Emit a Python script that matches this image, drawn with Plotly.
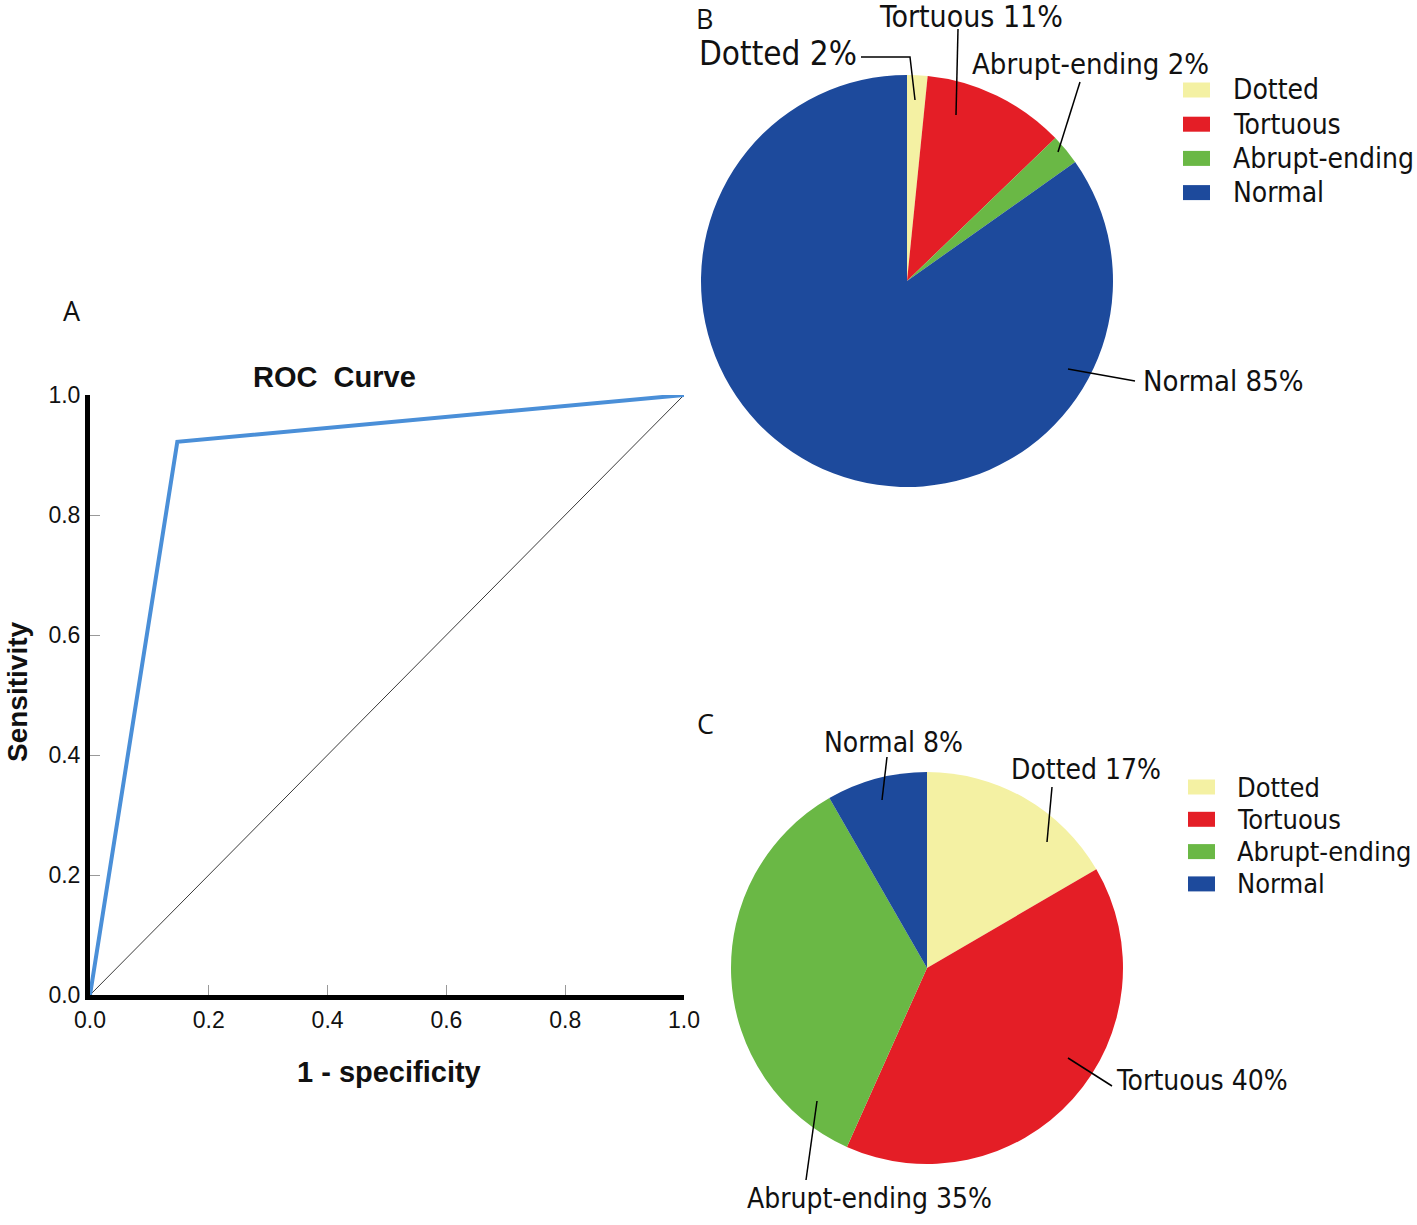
import plotly.graph_objects as go

W, H = 1417, 1225

# ---------------- data ----------------
roc_fpr = [0.0, 0.147, 1.0]
roc_tpr = [0.0, 0.922, 1.0]
ref_x = [0.0, 1.0]
ref_y = [0.0, 1.0]
tick_vals = [0.0, 0.2, 0.4, 0.6, 0.8, 1.0]

categories = ["Dotted", "Tortuous", "Abrupt-ending", "Normal"]
colors = ["#F4F1A3", "#E41E26", "#6AB845", "#1D4A9C"]

b_values = [1.6, 11.2, 2.4, 84.8]
b_labels = ["Dotted 2%", "Tortuous 11%", "Abrupt-ending 2%", "Normal 85%"]

c_values = [16.6, 40.1, 35.0, 8.3]
c_labels = ["Dotted 17%", "Tortuous 40%", "Abrupt-ending 35%", "Normal 8%"]


def px(x):
    return x / W


def py(y):
    return 1 - y / H


fig = go.Figure()

# ---------------- Panel A: ROC ----------------
fig.add_trace(go.Scatter(x=ref_x, y=ref_y, mode="lines",
                         line=dict(color="#3a3a3a", width=1),
                         cliponaxis=False, showlegend=False, hoverinfo="skip"))
fig.add_trace(go.Scatter(x=roc_fpr, y=roc_tpr, mode="lines",
                         line=dict(color="#4A8FD8", width=4),
                         cliponaxis=False, showlegend=False))

axis_common = dict(range=[0, 1], tickvals=tick_vals, tickformat=".1f",
                   showgrid=False, zeroline=False, showline=True,
                   linecolor="black", linewidth=5, automargin=False,
                   ticks="inside", ticklen=10, tickcolor="#999999", tickwidth=1,
                   tickfont=dict(family="Liberation Sans, Arial", size=23, color="#111"))
fig.update_layout(
    xaxis=dict(domain=[px(90), px(684)], anchor="y", **axis_common),
    yaxis=dict(domain=[py(995), py(395)], anchor="x", **axis_common),
)

# ---------------- Panels B and C: pies ----------------
bcx, bcy, br = 907, 281, 206
ccx, ccy, cr = 927, 968, 196

fig.add_trace(go.Pie(values=b_values, labels=categories, sort=False,
                     direction="clockwise", rotation=0,
                     marker=dict(colors=colors, line=dict(width=0)),
                     textinfo="none", showlegend=False,
                     domain=dict(x=[px(bcx - br), px(bcx + br)],
                                 y=[py(bcy + br), py(bcy - br)])))
fig.add_trace(go.Pie(values=c_values, labels=categories, sort=False,
                     direction="clockwise", rotation=0,
                     marker=dict(colors=colors, line=dict(width=0)),
                     textinfo="none", showlegend=False,
                     domain=dict(x=[px(ccx - cr), px(ccx + cr)],
                                 y=[py(ccy + cr), py(ccy - cr)])))

annotations = []
shapes = []


def ann(text, x, y, font, anchor="center", angle=0):
    annotations.append(dict(x=px(x), y=py(y), xref="paper", yref="paper",
                            text=text, showarrow=False, xanchor=anchor,
                            yanchor="middle", textangle=angle, font=font))


bold = dict(family="Liberation Sans, Arial", size=29, color="#111")
ann("<b>ROC  Curve</b>", 334, 377, bold)
ann("<b>1 - specificity</b>", 389, 1072, bold)
ann("<b>Sensitivity</b>", 17, 692, dict(family="Liberation Sans, Arial", size=28, color="#111"),
    angle=-90)

letter_font = dict(family="Open Sans, Liberation Sans", size=27, color="#111")
for t, (x, y) in zip(["A", "B", "C"], [(72, 311), (704, 19), (705, 723)]):
    ann(t, x, y, letter_font)

narrow = "Liberation Sans Narrow, DejaVu Sans Condensed, Liberation Sans"


def label(text, x, y, size, anchor="center"):
    ann(text, x, y, dict(family=narrow, size=size, color="#111"), anchor=anchor)


def line(pts):
    path = "M " + " L ".join(f"{px(a)},{py(b)}" for a, b in pts)
    shapes.append(dict(type="path", path=path, xref="paper", yref="paper",
                       line=dict(color="black", width=1.5)))


# B labels
label(b_labels[0], 778, 54, 33)
line([(861, 57), (910, 57), (915, 100)])
label(b_labels[1], 971, 16, 30)
line([(958, 29), (956, 115)])
label(b_labels[2], 1090, 64, 29)
line([(1080, 82), (1058, 152)])
label(b_labels[3], 1223, 381, 29)
line([(1135, 381), (1068, 369)])

# C labels
label(c_labels[3], 893, 742, 28)
line([(887, 757), (882, 800)])
label(c_labels[0], 1086, 769, 28)
line([(1052, 787), (1047, 842)])
label(c_labels[1], 1202, 1080, 28)
line([(1112, 1086), (1068, 1058)])
label(c_labels[2], 869, 1198, 28)
line([(806, 1180), (817, 1101)])


# Legends
def legend(x0, y0, dy, tx, size, sw, sh):
    for i, (cat, col) in enumerate(zip(categories, colors)):
        yc = y0 + i * dy
        shapes.append(dict(type="rect", xref="paper", yref="paper",
                           x0=px(x0), x1=px(x0 + sw), y0=py(yc + sh / 2), y1=py(yc - sh / 2),
                           fillcolor=col, line=dict(width=0)))
        ann(cat, tx, yc, dict(family=narrow, size=size, color="#111"), anchor="left")


legend(1183, 90, 34.2, 1231, 28, 27, 15)
legend(1188, 787, 32.3, 1235, 27, 27, 15)

fig.update_layout(width=W, height=H, margin=dict(l=0, r=0, t=0, b=0, pad=0),
                  autosize=False,
                  paper_bgcolor="white", plot_bgcolor="white",
                  annotations=annotations, shapes=shapes, showlegend=False)

fig.write_html("out.html", config={"displayModeBar": False},
               post_script="document.body.style.margin='0px';document.body.style.padding='0px';")
